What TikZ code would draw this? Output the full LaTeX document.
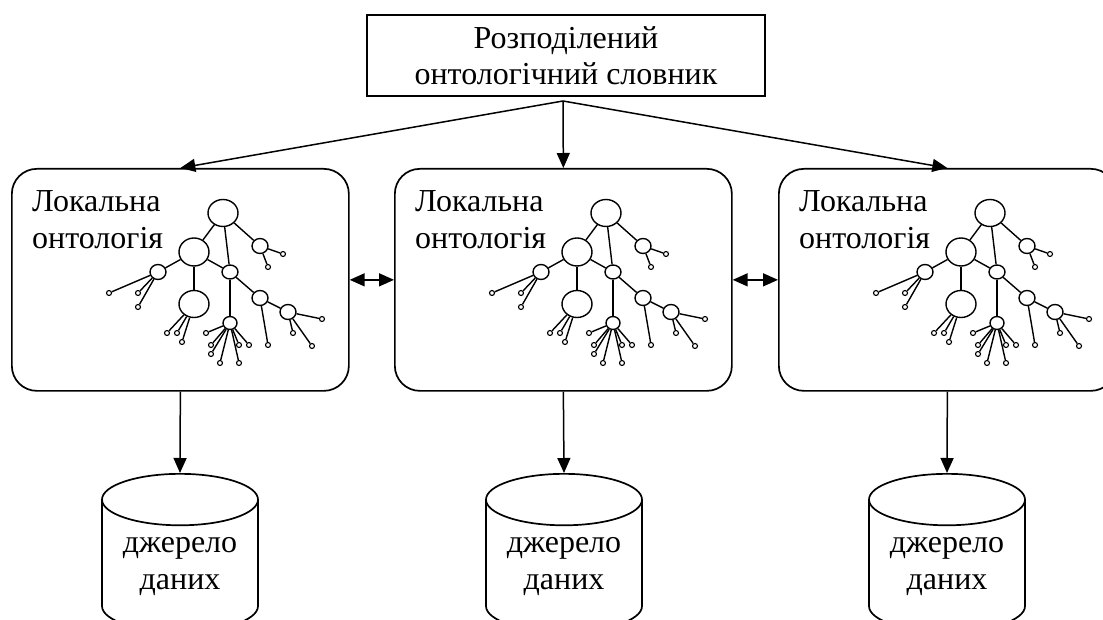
\documentclass[tikz,border=0pt]{standalone}
\usepackage{fontspec}
\setmainfont{Liberation Serif}
\usetikzlibrary{arrows.meta, shapes.geometric, positioning}

\begin{document}
\begin{tikzpicture}[x=1pt, y=-1pt,
  lbox/.style={draw, rounded corners=25pt, line width=1.7pt, minimum width=337pt, minimum height=222pt, inner sep=0pt},
  tbox/.style={draw, line width=1.7pt, minimum width=398pt, minimum height=81pt, align=center, font=\fontsize{32}{36.5}\selectfont},
  ltxt/.style={align=left, inner sep=0pt, font=\fontsize{32}{36.5}\selectfont},
  db/.style={cylinder, shape border rotate=90, draw, aspect=0.45, minimum width=156pt, minimum height=158pt, line width=1.7pt, align=center, inner sep=0pt, font=\fontsize{32}{37}\selectfont},
  big/.style={ellipse, draw, line width=1.4pt, minimum width=30pt, minimum height=27pt, inner sep=0pt},
  sml/.style={ellipse, draw, line width=1.4pt, minimum width=16pt, minimum height=15pt, inner sep=0pt},
  lf/.style={circle, draw, fill=white, line width=1.1pt, minimum size=5pt, inner sep=0pt},
  tl/.style={line width=1.4pt},
  arr/.style={-{Triangle[length=15pt, width=13pt]}, line width=1.5pt},
  darr/.style={{Triangle[length=15pt, width=13pt]}-{Triangle[length=15pt, width=13pt]}, line width=1.5pt}]
  \useasboundingbox (0,0) rectangle (1103,620);

  \node[tbox] (top) at (566,55.5) {Розподілений\\онтологічний словник};
  \coordinate (hub) at (563,101);

  \foreach \i/\x/\c in {1/11/180, 2/394/564, 3/778/947} {
    \node[lbox, anchor=north west] (b\i) at (\x,168) {};
    \node[ltxt, anchor=north west] (t\i) at (\x+21,190.5) {Локальна\\онтологія};
    \node[db, anchor=north] (db\i) at (\c,473) {джерело\\даних};
    \draw[arr] (hub) -- (b\i.north);
    \draw[arr] (b\i.south) -- (db\i.north);

    % tree of the local ontology
    \begin{scope}[shift={(\x,168)}]
      \node[big] (r\i) at (212,45) {};
      \node[big, minimum height=28pt] (a\i) at (183,84) {};
      \node[big] (e\i) at (183,136) {};
      \node[sml] (bb\i) at (249,78) {};
      \node[sml, minimum height=14pt] (c\i) at (219,104) {};
      \node[sml] (d\i) at (147,104) {};
      \node[sml] (f\i) at (249,130) {};
      \node[sml] (g\i) at (277,144) {};
      \node[sml, minimum width=14pt, minimum height=13pt] (h\i) at (219,155) {};
      \draw[tl] (r\i) -- (a\i);
      \draw[tl] (r\i) -- (c\i);
      \draw[tl] (r\i) -- (bb\i);
      \draw[tl] (a\i) -- (d\i);
      \draw[tl] (a\i) -- (c\i);
      \draw[tl] (a\i) -- (e\i);
      \draw[tl] (c\i) -- (h\i);
      \draw[tl] (c\i) -- (f\i);
      \draw[tl] (f\i) -- (g\i);
      \foreach \p/\lx/\ly [count=\k] in {bb/272/86, bb/257/99, d/98/125, d/127/125, d/127/139,
          e/156/165, e/166/165, e/171/174, h/195/165, h/200/177, h/200/186, h/209/195,
          h/228/195, h/228/177, h/238/177, f/257/177, g/311/151, g/282/165, g/301/178} {
        \node[lf] (lf\i-\k) at (\lx,\ly) {};
        \draw[tl] (\p\i) -- (lf\i-\k);
      }
    \end{scope}
  }

  \draw[darr] (b1.east) -- (b2.west);
  \draw[darr] (b2.east) -- (b3.west);
\end{tikzpicture}
\end{document}
